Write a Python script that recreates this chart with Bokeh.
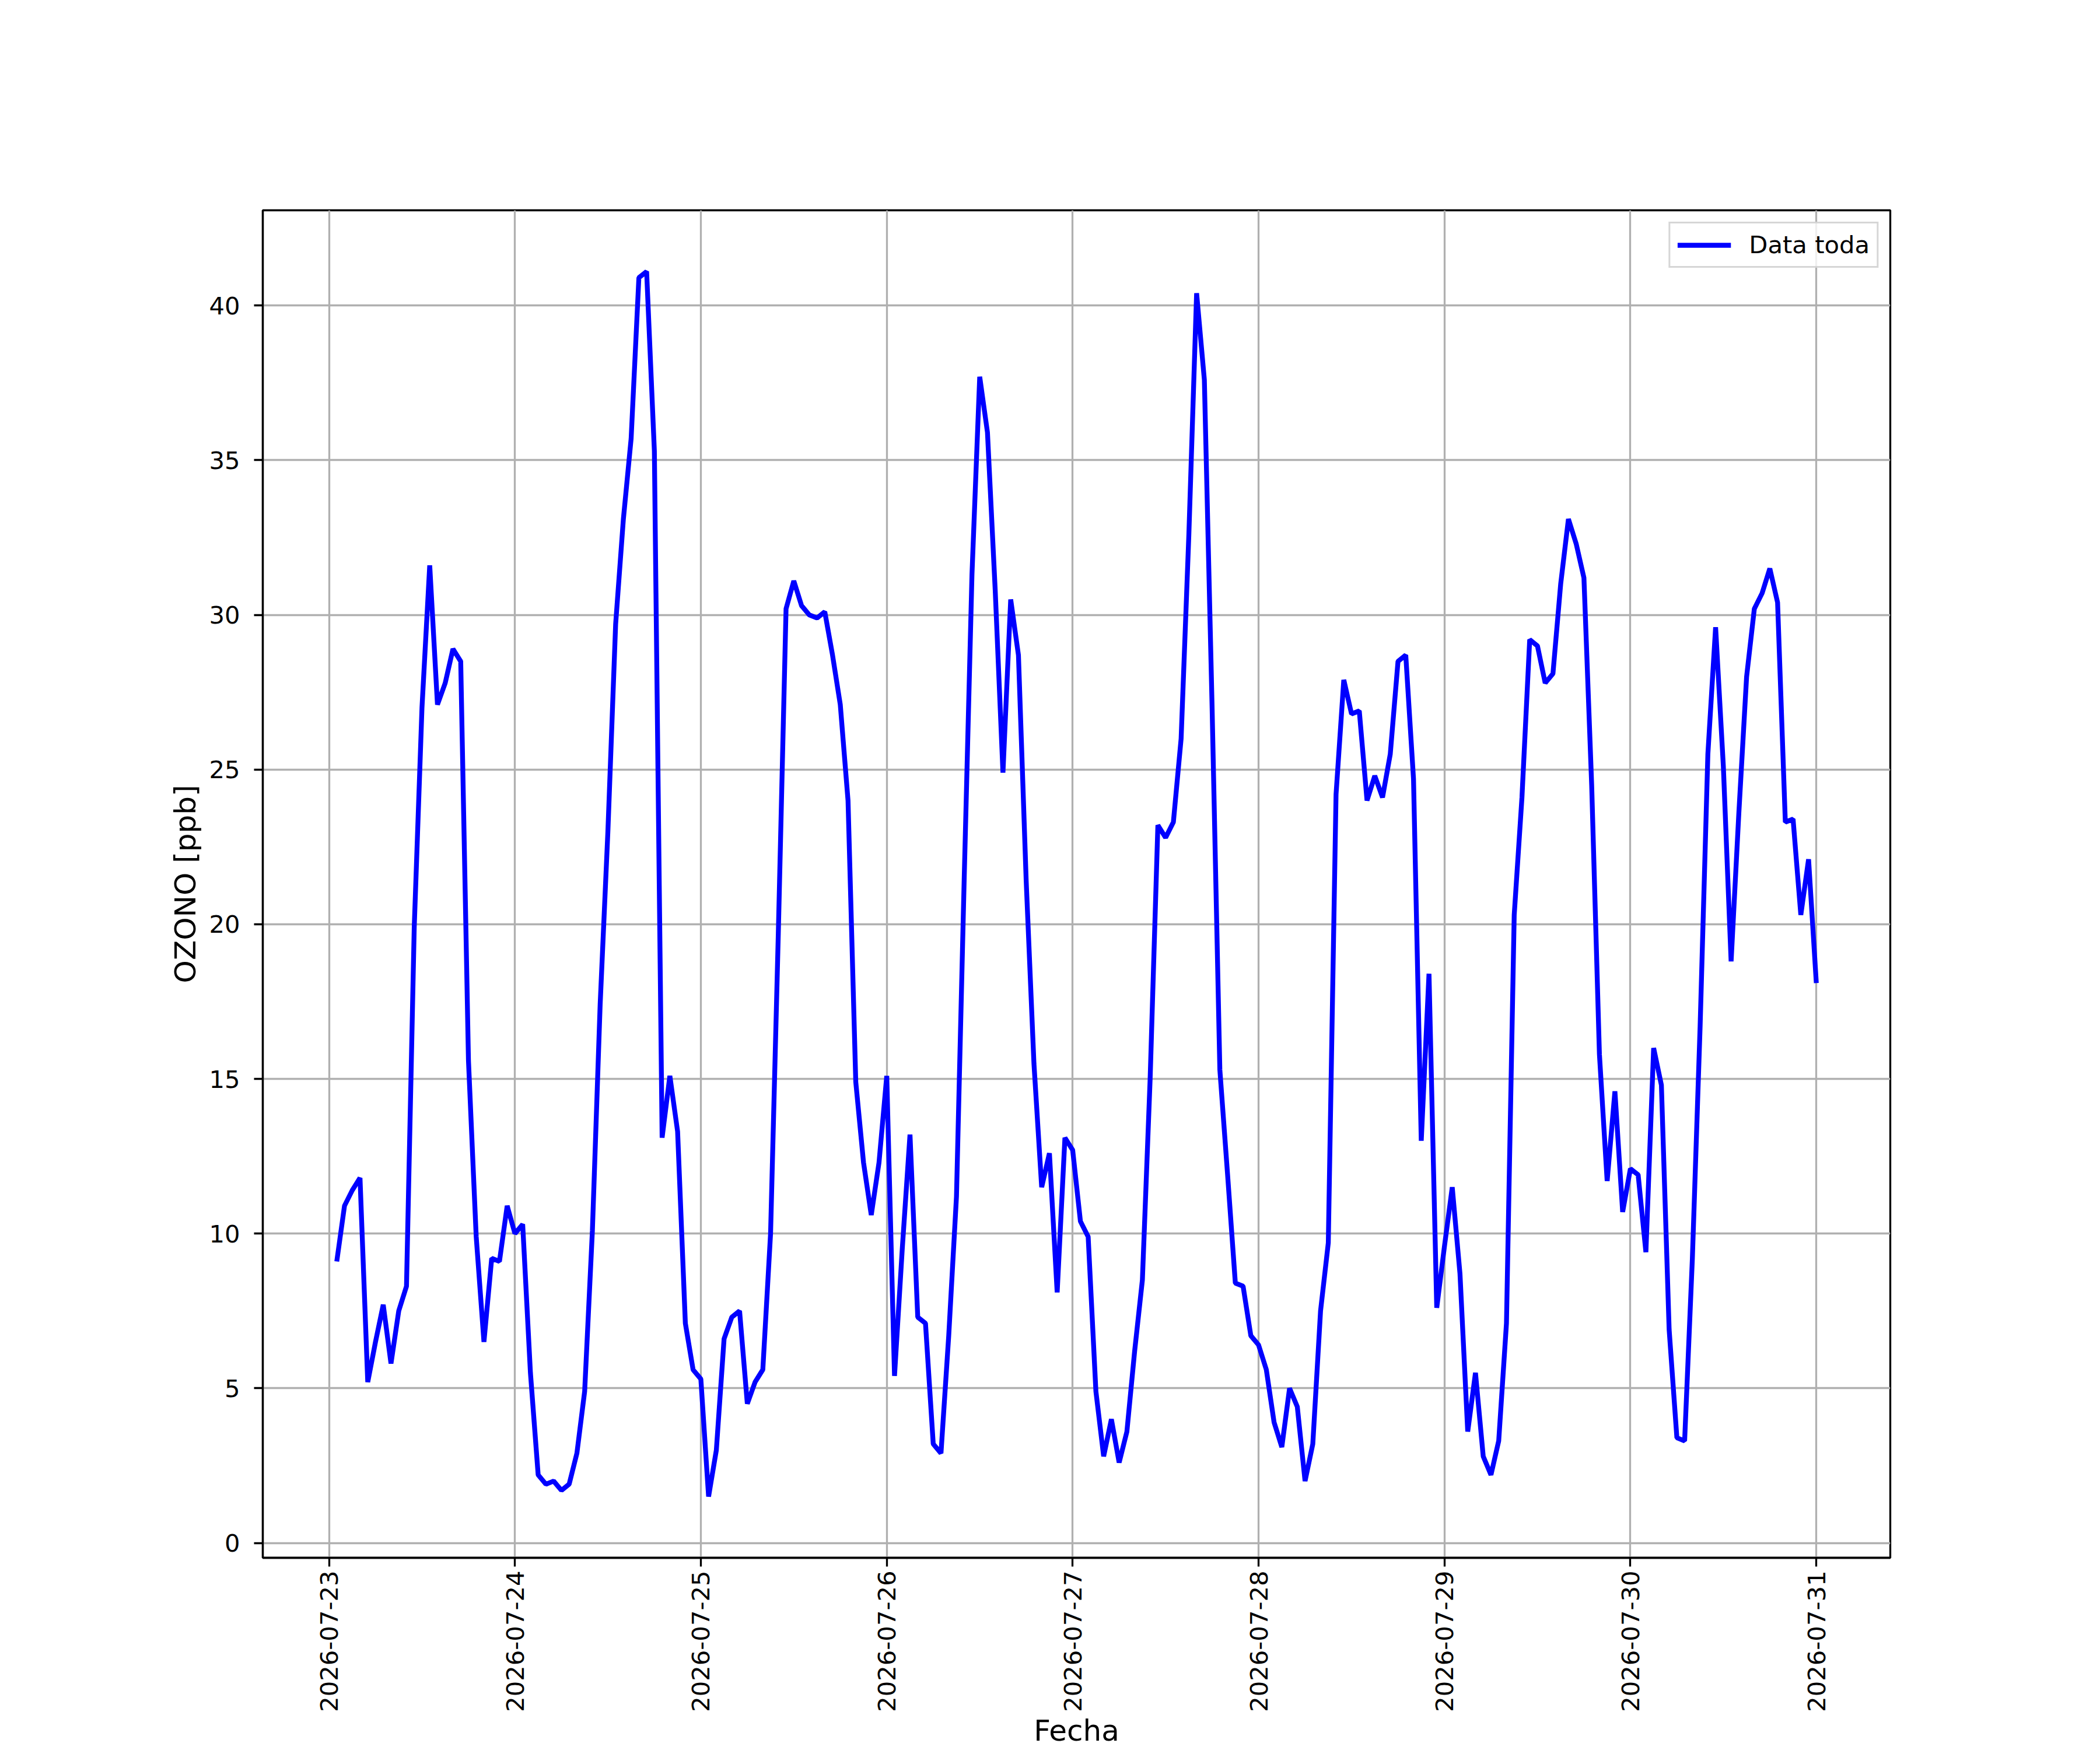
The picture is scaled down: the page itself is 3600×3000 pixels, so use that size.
import math
import pandas as pd
from bokeh.plotting import figure
from bokeh.models import Range1d, FixedTicker, DatetimeTickFormatter
from bokeh.embed import file_html
from bokeh.resources import INLINE

# ---- data (hourly ozone, ppb) ----
start_time = "2026-07-23 01:00"
day_0723 = [9.1, 10.9, 11.4, 11.8, 5.2, 6.5, 7.7, 5.8, 7.5, 8.3, 19.9, 27.0,
            31.6, 27.1, 27.8, 28.9, 28.5, 15.6, 9.9, 6.5, 9.2, 9.1, 10.9, 10.0]
day_0724 = [10.3, 5.5, 2.2, 1.9, 2.0, 1.7, 1.9, 2.9, 4.9, 10.1, 17.4, 23.0,
            29.7, 33.1, 35.7, 40.9, 41.1, 35.3, 13.1, 15.1, 13.3, 7.1, 5.6, 5.3]
day_0725 = [1.5, 3.0, 6.6, 7.3, 7.5, 4.5, 5.2, 5.6, 10.0, 19.7, 30.2, 31.1,
            30.3, 30.0, 29.9, 30.1, 28.7, 27.1, 24.0, 14.9, 12.3, 10.6, 12.3, 15.1]
day_0726 = [5.4, 9.5, 13.2, 7.3, 7.1, 3.2, 2.9, 6.7, 11.2, 21.5, 31.3, 37.7,
            35.9, 30.8, 24.9, 30.5, 28.7, 21.4, 15.5, 11.5, 12.6, 8.1, 13.1, 12.7]
day_0727 = [10.4, 9.9, 4.9, 2.8, 4.0, 2.6, 3.6, 6.2, 8.5, 15.0, 23.2, 22.8,
            23.3, 26.0, 32.6, 40.4, 37.6, 27.0, 15.3, 11.9, 8.4, 8.3, 6.7, 6.4]
day_0728 = [5.6, 3.9, 3.1, 5.0, 4.4, 2.0, 3.2, 7.5, 9.7, 24.2, 27.9, 26.8,
            26.9, 24.0, 24.8, 24.1, 25.5, 28.5, 28.7, 24.7, 13.0, 18.4, 7.6, 9.6]
day_0729 = [11.5, 8.7, 3.6, 5.5, 2.8, 2.2, 3.3, 7.1, 20.3, 24.1, 29.2, 29.0,
            27.8, 28.1, 31.0, 33.1, 32.3, 31.2, 24.5, 15.8, 11.7, 14.6, 10.7, 12.1]
day_0730 = [11.9, 9.4, 16.0, 14.8, 6.9, 3.4, 3.3, 9.2, 16.7, 25.5, 29.6, 25.1,
            18.8, 23.6, 28.0, 30.2, 30.7, 31.5, 30.4, 23.3, 23.4, 20.3, 22.1, 18.1]

tick_days = ["2026-07-23", "2026-07-24", "2026-07-25", "2026-07-26", "2026-07-27",
             "2026-07-28", "2026-07-29", "2026-07-30", "2026-07-31"]
y_ticks = [0, 5, 10, 15, 20, 25, 30, 35, 40]

series_label = "Data toda"
x_label = "Fecha"
y_label = "OZONO [ppb]"

# ---- build ----
ozono = (day_0723 + day_0724 + day_0725 + day_0726 + day_0727 +
         day_0728 + day_0729 + day_0730)
times = pd.date_range(start_time, periods=len(ozono), freq="h")

t0, t1 = times[0], times[-1]
span = t1 - t0
x_start, x_end = t0 - 0.05 * span, t1 + 0.05 * span
ymin, ymax = min(ozono), max(ozono)
yr = ymax - ymin
y_start, y_end = ymin - 0.05 * yr, ymax + 0.05 * yr

FONT = "DejaVu Sans"
W, H = 3600, 3000

p = figure(width=W, height=H, x_axis_type="datetime",
           x_range=Range1d(x_start, x_end), y_range=Range1d(y_start, y_end),
           output_backend="svg", toolbar_location=None,
           min_border_left=450, min_border_right=360,
           min_border_top=360, min_border_bottom=330)

p.background_fill_color = "white"
p.border_fill_color = "white"
p.outline_line_color = "black"
p.outline_line_width = 3.3

p.line(times, ozono, line_color="blue", line_width=8.3, legend_label=series_label)

# grid
for g in (p.xgrid, p.ygrid):
    g.grid_line_color = "#b0b0b0"
    g.grid_line_width = 3.3

# x axis
tick_ms = [pd.Timestamp(d).value // 10**6 for d in tick_days]
p.xaxis.ticker = FixedTicker(ticks=tick_ms)
fmt = "%Y-%m-%d"
p.xaxis.formatter = DatetimeTickFormatter(
    milliseconds=fmt, seconds=fmt, minsec=fmt, minutes=fmt, hourmin=fmt,
    hours=fmt, days=fmt, months=fmt, years=fmt)
p.xaxis.major_label_orientation = math.pi / 2
p.xaxis.major_label_standoff = 7
p.xaxis.axis_label = x_label
p.xaxis.axis_label_standoff = 0

# y axis
p.yaxis.ticker = FixedTicker(ticks=y_ticks)
p.yaxis.axis_label = y_label
p.yaxis.major_label_standoff = 24
p.yaxis.axis_label_standoff = 8

for ax in (p.xaxis, p.yaxis):
    ax.major_label_text_font = FONT
    ax.major_label_text_font_size = "41.7px"
    ax.major_label_text_color = "black"
    ax.axis_label_text_font = FONT
    ax.axis_label_text_font_size = "50px"
    ax.axis_label_text_font_style = "normal"
    ax.axis_label_text_color = "black"
    ax.axis_line_color = "black"
    ax.axis_line_width = 3.3
    ax.major_tick_line_color = "black"
    ax.major_tick_line_width = 3.3
    ax.major_tick_out = 15
    ax.major_tick_in = 0
    ax.minor_tick_line_color = None

# legend
lg = p.legend[0]
lg.location = "top_right"
lg.margin = 20
lg.padding = 12
lg.spacing = 0
lg.glyph_width = 92
lg.glyph_height = 40
lg.label_standoff = 31
lg.label_height = 40
lg.label_text_font = FONT
lg.label_text_font_size = "41.7px"
lg.label_text_color = "black"
lg.border_line_color = "#cccccc"
lg.border_line_width = 3.3
lg.border_line_alpha = 0.8
lg.background_fill_alpha = 0.8

open("out.html", "w").write(file_html(p, INLINE))
